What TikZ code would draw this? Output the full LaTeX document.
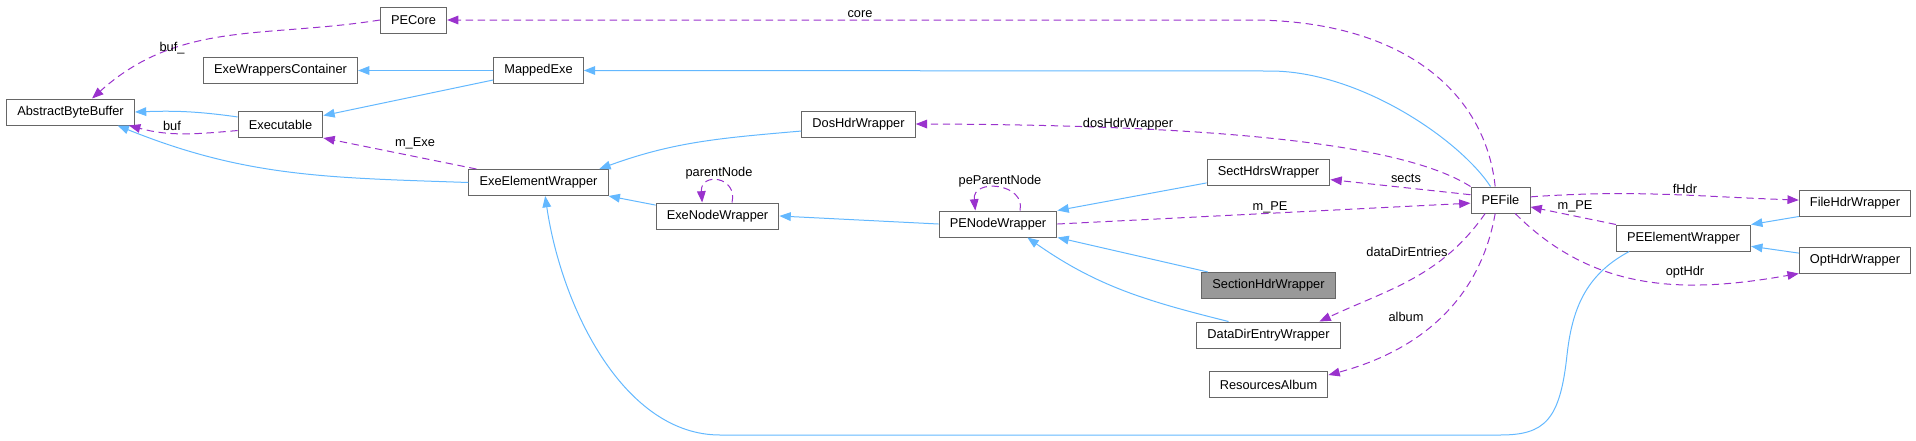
\documentclass[tikz,border=0pt]{standalone}
\usepackage{fontspec}
\setmainfont{Liberation Sans}
\usepackage{xcolor}
\usetikzlibrary{arrows.meta}
\definecolor{inheritblue}{HTML}{63B8FF}
\definecolor{usagepurple}{HTML}{9A32CD}
\definecolor{borderg}{HTML}{666666}
\definecolor{focusgray}{HTML}{999999}

\begin{document}
\begin{tikzpicture}[
    x=0.75pt, y=-0.75pt,
    cls/.style={rectangle, draw=borderg, fill=white, line width=0.75pt, minimum height=19.5pt, inner xsep=8pt, inner ysep=0pt, font=\fontsize{9.6}{11.5}\selectfont},
    inherit/.style={inheritblue, line width=0.75pt, -{Triangle[length=8.5pt, width=6.5pt]}},
    usage/.style={usagepurple, line width=0.75pt, dash pattern=on 5.5pt off 3.5pt, -{Triangle[length=8.5pt, width=6.5pt]}},
    lbl/.style={text=black, inner sep=0pt, font=\fontsize{9.6}{11.5}\selectfont}
]
\useasboundingbox (0,0) rectangle (1916,440);

% Buffers and executables
\node[cls] (abb) at (70.5,112) {AbstractByteBuffer};
\node[cls] (pecore) at (413.5,20) {PECore};
\node[cls] (ewc) at (280.5,70.5) {ExeWrappersContainer};
\node[cls] (mapped) at (538.5,70.5) {MappedExe};
\node[cls] (exe) at (280.5,124.5) {Executable};

% Wrapper hierarchy
\node[cls] (eew) at (538.5,182.5) {ExeElementWrapper};
\node[cls] (doshdr) at (858.5,124) {DosHdrWrapper};
\node[cls] (enw) at (717.5,216) {ExeNodeWrapper};
\node[cls] (penw) at (998,224) {PENodeWrapper};
\node[cls] (secthdrs) at (1268.5,172) {SectHdrsWrapper};
\node[cls, fill=focusgray] (sechdr) at (1268.5,285.5) {SectionHdrWrapper};
\node[cls] (ddew) at (1268.5,335) {DataDirEntryWrapper};
\node[cls] (resalb) at (1268.5,384.5) {ResourcesAlbum};

% PE file and its headers
\node[cls] (pefile) at (1500.5,200) {PEFile};
\node[cls] (peew) at (1683.5,238) {PEElementWrapper};
\node[cls] (fhw) at (1855,203) {FileHdrWrapper};
\node[cls] (ohw) at (1855,260) {OptHdrWrapper};

% Inheritance
\draw[inherit] (mapped) -- (ewc);
\draw[inherit] (mapped) -- (exe);
\draw[inherit] (exe.170) to[out=172, in=2] (abb.east);
\draw[inherit] (eew.west) to[out=178, in=-22] (abb.-16);
\draw[inherit] (doshdr.187) to[out=185, in=20] ([xshift=-7pt]eew.north east);
\draw[inherit] (enw.170) -- (eew.south east);
\draw[inherit] (penw.west) -- (enw.east);
\draw[inherit] (secthdrs.190) -- (penw.north east);
\draw[inherit] ([xshift=5pt]sechdr.north west) -- (penw.south east);
\draw[inherit] ([xshift=-30pt]ddew.north) to[out=166, in=-35] ([xshift=22pt]penw.south);
\draw[inherit] ([xshift=-7.5pt]pefile.north) .. controls (1460,140) and (1360,71) .. (1270,71) -- (mapped.east);
\draw[inherit] (fhw.south west) -- (peew.north east);
\draw[inherit] (ohw.173) -- (peew.-7);
\draw[inherit] ([xshift=10pt]peew.south west) .. controls (1585,275) and (1572,310) .. (1567,355)
    .. controls (1560,420) and (1545,435) .. (1500,435) -- (720,435)
    .. controls (625,435) and (562,310) .. ([xshift=5pt]eew.south);

% Usage
\draw[usage] (pecore.west) to[out=189, in=42] (abb.32) node[lbl] (lbufa) at (172,48) {buf\_};
\draw[usage] (exe.188) to[out=185, in=-15] (abb.-13) node[lbl] (lbufb) at (172,126) {buf};
\draw[usage] ([xshift=6pt]eew.north west) -- (exe.south east) node[lbl] (lmexe) at (415,143) {m\_Exe};
\draw[usage] ([xshift=10.9pt]enw.north) .. controls (738,176) and (700,172) .. ([xshift=-11.5pt]enw.north) node[lbl] (lparent) at (719,173) {parentNode};
\draw[usage] ([xshift=16.5pt]penw.north) .. controls (1026,183) and (972,178) .. ([xshift=-17pt]penw.north) node[lbl] (lpeparent) at (1000,181) {peParentNode};
\draw[usage] ([xshift=-4pt]pefile.north) .. controls (1485,90) and (1400,20) .. (1250,20) -- (pecore.east) node[lbl] (lcore) at (860,14) {core};
\draw[usage] (pefile.north west) .. controls (1410,148) and (1250,125) .. (doshdr.east) node[lbl] (ldos) at (1128,124) {dosHdrWrapper};
\draw[usage] (pefile.170) -- (secthdrs.-7) node[lbl] (lsects) at (1406,178) {sects};
\draw[usage] (penw.east) -- (pefile.186) node[lbl] (lmpea) at (1270,207) {m\_PE};
\draw[usage] (peew.north west) -- (pefile.-13) node[lbl] (lmpeb) at (1575,206) {m\_PE};
\draw[usage] (pefile.6) to[out=4, in=178] (fhw.177) node[lbl] (lfhdr) at (1685,189) {fHdr};
\draw[usage] ([xshift=-11.5pt]pefile.south) to[out=-125, in=25] ([xshift=-16pt]ddew.north east) node[lbl] (lddir) at (1407,252) {dataDirEntries};
\draw[usage] ([xshift=-4pt]pefile.south) to[out=-100, in=15] (resalb.9) node[lbl] (lalbum) at (1406,317) {album};
\draw[usage] ([xshift=11pt]pefile.south) to[out=-45, in=190] (ohw.south west) node[lbl] (lopt) at (1685,272) {optHdr};
\end{tikzpicture}
\end{document}
